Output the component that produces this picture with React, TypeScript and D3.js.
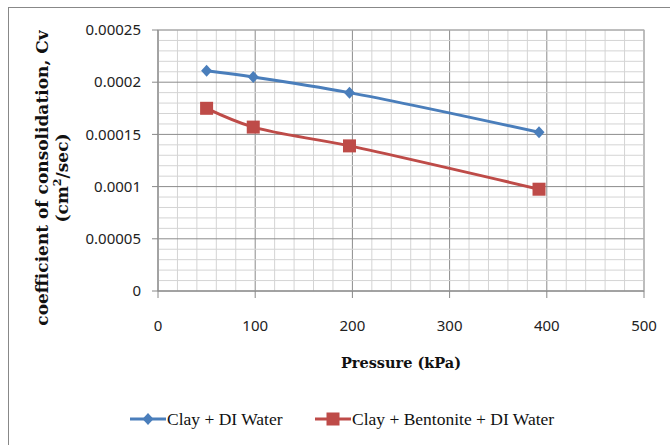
import React from "react";
import * as d3 from "d3";

const pressure = [50, 98, 197, 392];
const clayDI = [0.000211, 0.000205, 0.00019, 0.000152];
const clayBentDI = [0.000175, 0.000157, 0.000139, 0.0000975];
const xTicks = [0, 100, 200, 300, 400, 500];
const yTicks = [0, 0.00005, 0.0001, 0.00015, 0.0002, 0.00025];
const yTickLabels = ["0", "0.00005", "0.0001", "0.00015", "0.0002", "0.00025"];

const seriesNames = ["Clay + DI Water", "Clay + Bentonite + DI Water"];
const seriesColors = ["#4A7EBB", "#BE4B48"];

export default function App() {
  const width = 670;
  const height = 445;
  const plot = { left: 158, right: 644, top: 30, bottom: 291 };

  const x = d3.scaleLinear().domain([0, 500]).range([plot.left, plot.right]);
  const y = d3.scaleLinear().domain([0, 0.00025]).range([plot.bottom, plot.top]);

  const xMinor = d3.range(0, 501, 20);
  const yMinor = d3.range(0, 26).map(i => i * 0.00001);

  const line = d3
    .line<number>()
    .x((_, i) => x(pressure[i]))
    .y(d => y(d))
    .curve(d3.curveCatmullRom.alpha(0.5));

  const tickFont = "'Noto Sans', sans-serif";
  const titleFont = "'DejaVu Serif', serif";
  const legendFont = "'Liberation Serif', serif";

  return (
    <svg
      width={width}
      height={height}
      style={{ position: "absolute", left: 0, top: 0, background: "#fff" }}
    >
      {/* frame */}
      <rect x={8.5} y={7.5} width={700} height={460} fill="#fff" stroke="#888" strokeWidth={1} />

      {/* grid */}
      {xMinor.map(v => (
        <line key={"xm" + v} x1={x(v)} x2={x(v)} y1={plot.top} y2={plot.bottom}
          stroke={v % 100 === 0 ? "#8c8c8c" : "#d4d4d4"} strokeWidth={1} />
      ))}
      {yMinor.map((v, i) => (
        <line key={"ym" + i} x1={plot.left} x2={plot.right} y1={y(v)} y2={y(v)}
          stroke={i % 5 === 0 ? "#8c8c8c" : "#d4d4d4"} strokeWidth={1} />
      ))}
      <rect x={plot.left} y={plot.top} width={plot.right - plot.left} height={plot.bottom - plot.top}
        fill="none" stroke="#b5b5b5" />

      {/* axes */}
      <line x1={plot.left} x2={plot.right} y1={plot.bottom} y2={plot.bottom} stroke="#888" />
      <line x1={plot.left} x2={plot.left} y1={plot.top} y2={plot.bottom} stroke="#888" />
      {xTicks.map(t => (
        <g key={"xt" + t}>
          <line x1={x(t)} x2={x(t)} y1={plot.bottom} y2={plot.bottom + 7} stroke="#888" />
          <text x={x(t)} y={331} textAnchor="middle" fontFamily={tickFont} fontSize={15} fill="#222">
            {t}
          </text>
        </g>
      ))}
      {yTicks.map((t, i) => (
        <g key={"yt" + i}>
          <line x1={plot.left - 6} x2={plot.left} y1={y(t)} y2={y(t)} stroke="#888" />
          <text x={141} y={y(t)} dy="0.35em" textAnchor="end" fontFamily={tickFont} fontSize={15} fill="#222">
            {yTickLabels[i]}
          </text>
        </g>
      ))}

      {/* series */}
      <path d={line(clayDI) ?? ""} fill="none" stroke={seriesColors[0]} strokeWidth={3} />
      <path d={line(clayBentDI) ?? ""} fill="none" stroke={seriesColors[1]} strokeWidth={3} />
      {clayDI.map((v, i) => (
        <path key={"d" + i} transform={`translate(${x(pressure[i])},${y(v)})`}
          d="M0,-6L5.5,0L0,6L-5.5,0Z" fill={seriesColors[0]} />
      ))}
      {clayBentDI.map((v, i) => (
        <rect key={"s" + i} x={x(pressure[i]) - 6.5} y={y(v) - 6.5} width={13} height={13}
          fill={seriesColors[1]} />
      ))}

      {/* axis titles */}
      <text x={401} y={368} textAnchor="middle" fontFamily={titleFont} fontWeight="bold" fontSize={14.5} fill="#111">
        Pressure (kPa)
      </text>
      <g transform="translate(48,178) rotate(-90)">
        <text x={0} y={0} textAnchor="middle" fontFamily={titleFont} fontWeight="bold" fontSize={17} fill="#111">
          coefficient of consolidation, Cv
        </text>
        <text x={0} y={20} textAnchor="middle" fontFamily={titleFont} fontWeight="bold" fontSize={17} fill="#111">
          (cm<tspan dy={-7} fontSize={11}>2</tspan><tspan dy={7}>/sec)</tspan>
        </text>
      </g>

      {/* legend */}
      <g transform="translate(130,419)">
        <line x1={0} x2={36} y1={0} y2={0} stroke={seriesColors[0]} strokeWidth={3} />
        <path transform="translate(18,0)" d="M0,-6L5.5,0L0,6L-5.5,0Z" fill={seriesColors[0]} />
        <text x={37} y={0} dy="0.33em" fontFamily={legendFont} fontSize={17.5} fill="#111">
          {seriesNames[0]}
        </text>
      </g>
      <g transform="translate(315,419)">
        <line x1={0} x2={36} y1={0} y2={0} stroke={seriesColors[1]} strokeWidth={3} />
        <rect x={11.5} y={-6.5} width={13} height={13} fill={seriesColors[1]} />
        <text x={37} y={0} dy="0.33em" fontFamily={legendFont} fontSize={17.5} fill="#111">
          {seriesNames[1]}
        </text>
      </g>
    </svg>
  );
}
